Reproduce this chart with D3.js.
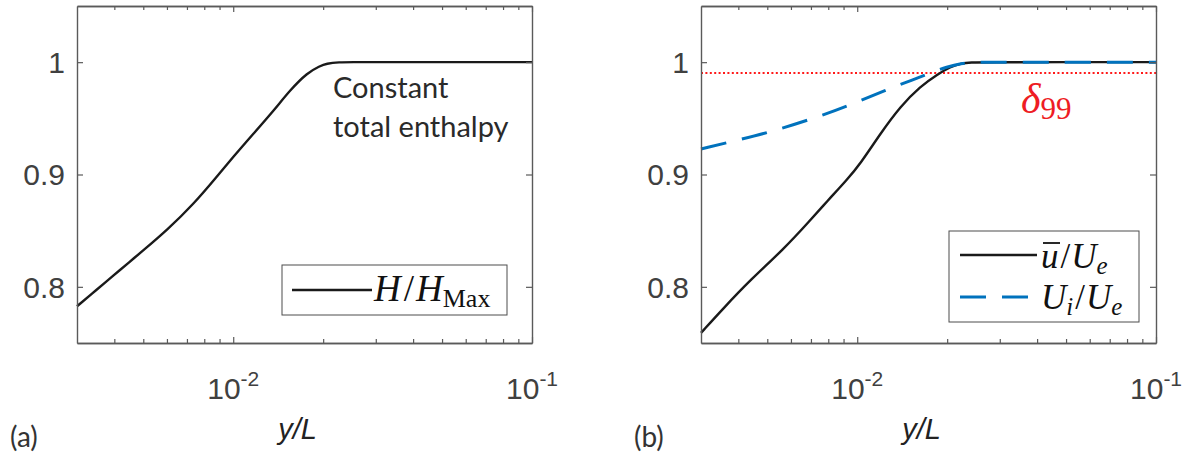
<!DOCTYPE html>
<html>
<head>
<meta charset="utf-8">
<script src="https://cdn.jsdelivr.net/npm/d3@7"></script>
<style>
  body { margin: 0; background: #fff; }
  svg { display: block; }
</style>
</head>
<body>
<svg id="chart" width="1186" height="461"></svg>
<script>
// panel (a): total enthalpy
var xH = [0.003, 0.0035, 0.0039, 0.0045, 0.005, 0.006, 0.0074, 0.0088, 0.010, 0.0117, 0.0137, 0.0155, 0.0177, 0.0195, 0.0205, 0.0226, 0.025, 0.03, 0.05, 0.1];
var yH = [0.7827, 0.7977, 0.8083, 0.8222, 0.8325, 0.8504, 0.8742, 0.8979, 0.9157, 0.9365, 0.9573, 0.9751, 0.9906, 0.9965, 0.9988, 1.0, 1.0, 1.0, 1.0, 1.0];

// panel (b): mean velocity and inviscid velocity
var xU = [0.003, 0.00356, 0.00438, 0.00567, 0.00696, 0.00792, 0.00924, 0.01024, 0.01196, 0.01395, 0.01628, 0.01852, 0.02053, 0.0222, 0.024, 0.027, 0.05, 0.1];
var yU = [0.759, 0.7807, 0.806, 0.8334, 0.8592, 0.876, 0.8953, 0.9095, 0.9365, 0.9607, 0.9786, 0.989, 0.9959, 0.9988, 0.9998, 1.0, 1.0, 1.0];
var xUi = [0.003, 0.00416, 0.00498, 0.00696, 0.00924, 0.01259, 0.01545, 0.01758, 0.02, 0.0222, 0.025, 0.03, 0.1];
var yUi = [0.9227, 0.9319, 0.937, 0.9488, 0.9607, 0.9756, 0.9846, 0.9905, 0.9959, 0.999, 1.0, 1.0, 1.0];
var delta99 = 0.99;

var xDomain = [0.003, 0.1];
var yDomain = [0.75, 1.05];
var yTicks = [0.8, 0.9, 1];
var yTickLabels = ["0.8", "0.9", "1"];
var xTicks = [0.01, 0.1];
var xTickExp = ["-2", "-1"];
var xMinor = [0.004, 0.005, 0.006, 0.007, 0.008, 0.009, 0.02, 0.03, 0.04, 0.05, 0.06, 0.07, 0.08, 0.09];

var W = 455, H = 337;
var axisCol = '#5a5a5a', tickCol = '#404040';
var sans = '"Liberation Sans", Arial, sans-serif';
var serif = '"Liberation Serif", "Times New Roman", serif';
var calib = 'Lato, "Open Sans", sans-serif';

var svg = d3.select('#chart');

var x = d3.scaleLog().domain(xDomain).range([0, W]);
var y = d3.scaleLinear().domain(yDomain).range([H, 0]);

var line = d3.line()
  .x(function(d) { return x(d[0]); })
  .y(function(d) { return y(d[1]); })
  .curve(d3.curveBasis);

function drawAxes(g, tag) {
  // box with inward ticks on all four sides
  g.append('g').attr('transform', 'translate(0,' + H + ')')
    .call(d3.axisBottom(x).tickValues(xMinor).tickSize(-4).tickSizeOuter(0).tickFormat(''));
  g.append('g')
    .call(d3.axisTop(x).tickValues(xMinor).tickSize(-4).tickSizeOuter(0).tickFormat(''));
  g.append('g').attr('transform', 'translate(0,' + H + ')')
    .call(d3.axisBottom(x).tickValues(xTicks).tickSize(-6).tickSizeOuter(0).tickFormat(''));
  g.append('g')
    .call(d3.axisTop(x).tickValues(xTicks).tickSize(-6).tickSizeOuter(0).tickFormat(''));
  g.append('g')
    .call(d3.axisLeft(y).tickValues(yTicks).tickSize(-6).tickSizeOuter(0).tickFormat(''));
  g.append('g').attr('transform', 'translate(' + W + ',0)')
    .call(d3.axisRight(y).tickValues(yTicks).tickSize(-6).tickSizeOuter(0).tickFormat(''));
  g.selectAll('.domain').attr('stroke', axisCol).attr('stroke-width', 1.4);
  g.selectAll('.tick line').attr('stroke', axisCol).attr('stroke-width', 1.2);

  // y tick labels
  g.selectAll('.ylab').data(yTicks).enter().append('text')
    .attr('class', 'ylab')
    .attr('x', -12).attr('y', function(d) { return y(d); })
    .attr('dy', '0.36em')
    .attr('text-anchor', 'end')
    .attr('font-family', sans).attr('font-size', 30).attr('fill', tickCol)
    .text(function(d, i) { return yTickLabels[i]; });

  // x tick labels: 10^n
  var xl = g.selectAll('.xlab').data(xTicks).enter().append('text')
    .attr('class', 'xlab')
    .attr('x', function(d) { return x(d) - 26; }).attr('y', H + 56)
    .attr('font-family', sans).attr('font-size', 30).attr('fill', tickCol);
  xl.append('tspan').text('10');
  xl.append('tspan').attr('dy', -13).attr('font-size', 21)
    .text(function(d, i) { return xTickExp[i]; });

  // axis title
  g.append('text')
    .attr('x', W / 2 - 7).attr('y', H + 96)
    .attr('text-anchor', 'middle')
    .attr('font-family', sans).attr('font-style', 'italic').attr('font-size', 29)
    .attr('fill', '#222')
    .text('y/L');

  // panel tag
  g.append('text')
    .attr('x', -67).attr('y', H + 104)
    .attr('font-family', calib).attr('font-size', 28)
    .attr('fill', '#333')
    .text(tag);
}

// ---------- panel (a) ----------
var ga = svg.append('g').attr('transform', 'translate(77,6)');
ga.append('path')
  .datum(d3.zip(xH, yH))
  .attr('d', line)
  .attr('fill', 'none').attr('stroke', '#1a1a1a').attr('stroke-width', 2.4);
drawAxes(ga, '(a)');

var note = ga.append('text')
  .attr('font-family', calib).attr('font-size', 29)
  .attr('fill', '#2a2a2a');
note.append('tspan').attr('x', 256).attr('y', 92).text('Constant');
note.append('tspan').attr('x', 256).attr('y', 131).text('total enthalpy');

// legend (a)
var la = ga.append('g').attr('transform', 'translate(205,259)');
la.append('rect').attr('width', 225).attr('height', 50)
  .attr('fill', '#fff').attr('stroke', '#4d4d4d').attr('stroke-width', 1);
la.append('line').attr('x1', 10).attr('x2', 90).attr('y1', 25).attr('y2', 25)
  .attr('stroke', '#1a1a1a').attr('stroke-width', 2.4);
var ta = la.append('text').attr('x', 92).attr('y', 36)
  .attr('font-family', serif).attr('font-size', 37).attr('fill', '#111');
ta.append('tspan').attr('font-style', 'italic').text('H');
ta.append('tspan').attr('dx', 3).text('/');
ta.append('tspan').attr('dx', 2).attr('font-style', 'italic').text('H');
ta.append('tspan').attr('dy', 6).attr('font-size', 26).text('Max');

// ---------- panel (b) ----------
var gb = svg.append('g').attr('transform', 'translate(701,6)');
gb.append('line')
  .attr('x1', 0).attr('x2', W)
  .attr('y1', Math.round(y(delta99))).attr('y2', Math.round(y(delta99)))
  .attr('stroke', '#ff1a1a').attr('stroke-width', 2).attr('stroke-dasharray', '2,2.4');
gb.append('path')
  .datum(d3.zip(xU, yU))
  .attr('d', line)
  .attr('fill', 'none').attr('stroke', '#1a1a1a').attr('stroke-width', 2.4);
gb.append('path')
  .datum(d3.zip(xUi, yUi))
  .attr('d', line)
  .attr('fill', 'none').attr('stroke', '#0072BD').attr('stroke-width', 3)
  .attr('stroke-dasharray', '26,16');
drawAxes(gb, '(b)');

var dl = gb.append('text').attr('x', 320).attr('y', 107)
  .attr('font-family', serif).attr('fill', '#ee1c24');
dl.append('tspan').attr('font-style', 'italic').attr('font-size', 42).text('\u03b4');
dl.append('tspan').attr('dy', 6).attr('font-size', 31).text('99');

// legend (b)
var lb = gb.append('g').attr('transform', 'translate(248,225)');
lb.append('rect').attr('width', 190).attr('height', 91)
  .attr('fill', '#fff').attr('stroke', '#4d4d4d').attr('stroke-width', 1);
lb.append('line').attr('x1', 11).attr('x2', 88).attr('y1', 24).attr('y2', 24)
  .attr('stroke', '#1a1a1a').attr('stroke-width', 2.4);
lb.append('line').attr('x1', 11).attr('x2', 88).attr('y1', 66).attr('y2', 66)
  .attr('stroke', '#0072BD').attr('stroke-width', 3).attr('stroke-dasharray', '26,16');

var t1 = lb.append('text').attr('x', 92).attr('y', 37)
  .attr('font-family', serif).attr('font-size', 35).attr('fill', '#111');
t1.append('tspan').attr('font-style', 'italic').text('u');
t1.append('tspan').attr('dx', 2).text('/');
t1.append('tspan').attr('dx', 1).attr('font-style', 'italic').text('U');
t1.append('tspan').attr('dy', 6).attr('font-style', 'italic').attr('font-size', 25).text('e');
// overbar on u
lb.append('line').attr('x1', 94).attr('x2', 111).attr('y1', 12).attr('y2', 12)
  .attr('stroke', '#111').attr('stroke-width', 1.8);

var t2 = lb.append('text').attr('x', 92).attr('y', 78)
  .attr('font-family', serif).attr('font-size', 35).attr('fill', '#111');
t2.append('tspan').attr('font-style', 'italic').text('U');
t2.append('tspan').attr('dy', 6).attr('font-style', 'italic').attr('font-size', 25).text('i');
t2.append('tspan').attr('dy', -6).attr('dx', 2).text('/');
t2.append('tspan').attr('dx', 1).attr('font-style', 'italic').text('U');
t2.append('tspan').attr('dy', 6).attr('font-style', 'italic').attr('font-size', 25).text('e');
</script>
</body>
</html>
